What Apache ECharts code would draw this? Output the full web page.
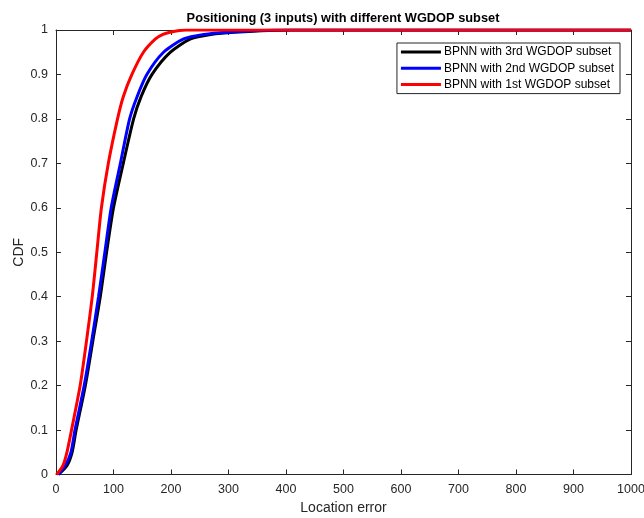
<!DOCTYPE html>
<html>
<head>
<meta charset="utf-8">
<script src="https://cdn.jsdelivr.net/npm/echarts@6/dist/echarts.min.js"></script>
<style>html,body{margin:0;padding:0;background:#fff}#c{width:644px;height:518px}</style>
</head>
<body>
<div id="c"></div>
<script>
const seriesNames = ['BPNN with 3rd WGDOP subset', 'BPNN with 2nd WGDOP subset', 'BPNN with 1st WGDOP subset'];
const cdfLevels = [0, 0.02, 0.05, 0.1, 0.2, 0.3, 0.4, 0.5, 0.6, 0.7, 0.8, 0.85, 0.9, 0.95, 0.98, 0.99, 0.995, 1, 1];
const blackX = [4, 19, 28, 35, 51, 64, 77, 88, 100, 117, 135, 148, 167, 199, 234, 269, 310, 410, 1000];
const blueX  = [4, 16, 26, 33, 49, 62, 74, 85, 96, 112, 128, 141, 158, 187, 222, 257, 300, 380, 1000];
const redX   = [1, 12, 19, 27, 42, 53, 63, 71, 79, 91, 107, 117, 132, 152, 173, 186, 198, 225, 1000];
const xTicks = [0, 100, 200, 300, 400, 500, 600, 700, 800, 900, 1000];
const yTicks = [0, 0.1, 0.2, 0.3, 0.4, 0.5, 0.6, 0.7, 0.8, 0.9, 1];
const colors = ['#000000', '#0000ff', '#ff0000'];

function pairs(xs) { return xs.map((x, i) => [x, cdfLevels[i]]); }
const allX = [blackX, blueX, redX];

const font = 'Liberation Sans, Arial, sans-serif';
const axisCol = '#262626';
const chart = echarts.init(document.getElementById('c'));
chart.setOption({
  animation: false,
  title: {
    text: 'Positioning (3 inputs) with different WGDOP subset',
    left: 338, top: 7, textAlign: 'center',
    textStyle: { fontFamily: font, fontSize: 12.8, fontWeight: 'bold', color: '#000' }
  },
  grid: { left: 56, right: 13, top: 30, bottom: 43.5, outerBoundsMode: 'none' },
  legend: {
    data: seriesNames,
    orient: 'vertical', right: 24, top: 43,
    itemWidth: 40, itemHeight: 3, itemGap: 4.3,
    icon: 'rect',
    borderColor: axisCol, borderWidth: 1, padding: [3, 6, 3, 4],
    backgroundColor: '#fff',
    textStyle: { fontFamily: font, fontSize: 12, color: '#000', padding: [0, 0, 0, -2] }
  },
  xAxis: [{
    type: 'value', min: 0, max: 1000, interval: 100,
    name: 'Location error', nameLocation: 'middle', nameGap: 27, nameMoveOverlap: false,
    nameTextStyle: { fontFamily: font, fontSize: 14, color: axisCol },
    axisLine: { show: true, onZero: false, lineStyle: { color: axisCol, width: 1 } },
    axisTick: { show: true, inside: true, length: 5, lineStyle: { color: axisCol } },
    axisLabel: { fontFamily: font, fontSize: 12.5, color: axisCol, margin: 9,
      customValues: xTicks, formatter: v => String(v) },
    splitLine: { show: false }
  }, {
    type: 'value', min: 0, max: 1000, interval: 100, position: 'top',
    axisLine: { show: true, onZero: false, lineStyle: { color: axisCol, width: 1 } },
    axisTick: { show: true, inside: true, length: 5, lineStyle: { color: axisCol } },
    axisLabel: { show: false }, splitLine: { show: false }
  }],
  yAxis: [{
    type: 'value', min: 0, max: 1, interval: 0.1,
    name: 'CDF', nameLocation: 'middle', nameGap: 30, nameMoveOverlap: false,
    nameTextStyle: { fontFamily: font, fontSize: 14, color: axisCol },
    axisLine: { show: true, onZero: false, lineStyle: { color: axisCol, width: 1 } },
    axisTick: { show: true, inside: true, length: 5, lineStyle: { color: axisCol } },
    axisLabel: { fontFamily: font, fontSize: 12.5, color: axisCol, margin: 8,
      formatter: v => String(Math.round(v * 10) / 10) },
    splitLine: { show: false }
  }, {
    type: 'value', min: 0, max: 1, interval: 0.1, position: 'right',
    axisLine: { show: true, onZero: false, lineStyle: { color: axisCol, width: 1 } },
    axisTick: { show: true, inside: true, length: 5, lineStyle: { color: axisCol } },
    axisLabel: { show: false }, splitLine: { show: false }
  }],
  series: seriesNames.map((n, i) => ({
    name: n, type: 'line', xAxisIndex: 0, yAxisIndex: 0,
    data: pairs(allX[i]),
    showSymbol: false, smooth: 0.25,
    lineStyle: { color: colors[i], width: 3 },
    itemStyle: { color: colors[i] },
    z: 2 + i
  }))
});
</script>
</body>
</html>
